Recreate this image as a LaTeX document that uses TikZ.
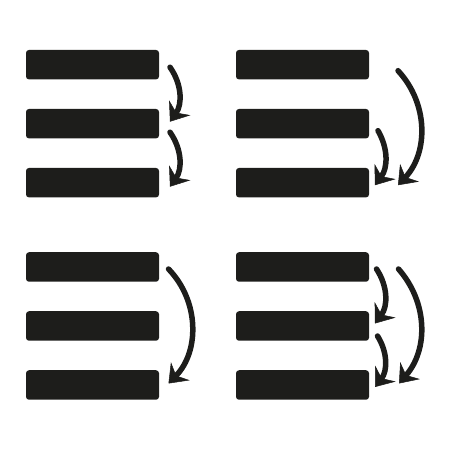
\documentclass[tikz,border=0pt]{standalone}
\usetikzlibrary{arrows.meta}
\usetikzlibrary{positioning}
\definecolor{bardark}{RGB}{29,29,27}

\begin{document}
\begin{tikzpicture}[x=1pt,y=1pt]
\useasboundingbox (0,0) rectangle (450,450);

\begin{scope}[every node/.style={fill=bardark,rectangle,rounded corners=3pt,
              minimum width=133pt,minimum height=29.5pt,inner sep=0pt,outer sep=0pt},
              node distance=29.5pt]
    % top left
    \node (bar_a1) at (92.5,385.3) {};
    \node[below=of {bar_a1}] (bar_a2) {};
    \node[below=of {bar_a2}] (bar_a3) {};
    % top right
    \node (bar_b1) at (302.5,385.3) {};
    \node[below=of {bar_b1}] (bar_b2) {};
    \node[below=of {bar_b2}] (bar_b3) {};
    % bottom left
    \node (bar_c1) at (92.5,183) {};
    \node[below=of {bar_c1}] (bar_c2) {};
    \node[below=of {bar_c2}] (bar_c3) {};
    % bottom right
    \node (bar_d1) at (302.5,183) {};
    \node[below=of {bar_d1}] (bar_d2) {};
    \node[below=of {bar_d2}] (bar_d3) {};
\end{scope}

\begin{scope}[>={Stealth[length=17pt,width=26pt,inset=6pt,line width=0.5pt]},
              every edge/.style={draw=bardark,line width=5.5pt,line cap=round}]
    \path [->] ([shift={(11,-2.5)}]bar_a1.east) edge[bend left=35] ([shift={(11,2)}]bar_a2.east);
    \path [->] ([shift={(11,-8.5)}]bar_a2.east) edge[bend left=35] ([shift={(11,-4)}]bar_a3.east);
    \path [->] ([shift={(29,-6)}]bar_b1.east)   edge[bend left=43] ([shift={(29,-2.5)}]bar_b3.east);
    \path [->] ([shift={(9,-7)}]bar_b2.east)    edge[bend left=33] ([shift={(6,-2.5)}]bar_b3.east);
    \path [->] ([shift={(9.5,-2)}]bar_c1.east)  edge[bend left=44] ([shift={(9.5,1.5)}]bar_c3.east);
    \path [->] ([shift={(7.5,-2)}]bar_d1.east)  edge[bend left=35] ([shift={(6,2.5)}]bar_d2.east);
    \path [->] ([shift={(8.5,-10)}]bar_d2.east) edge[bend left=35] ([shift={(6,-2)}]bar_d3.east);
    \path [->] ([shift={(29.5,-2)}]bar_d1.east) edge[bend left=41] ([shift={(30,1.5)}]bar_d3.east);
\end{scope}
\end{tikzpicture}
\end{document}
